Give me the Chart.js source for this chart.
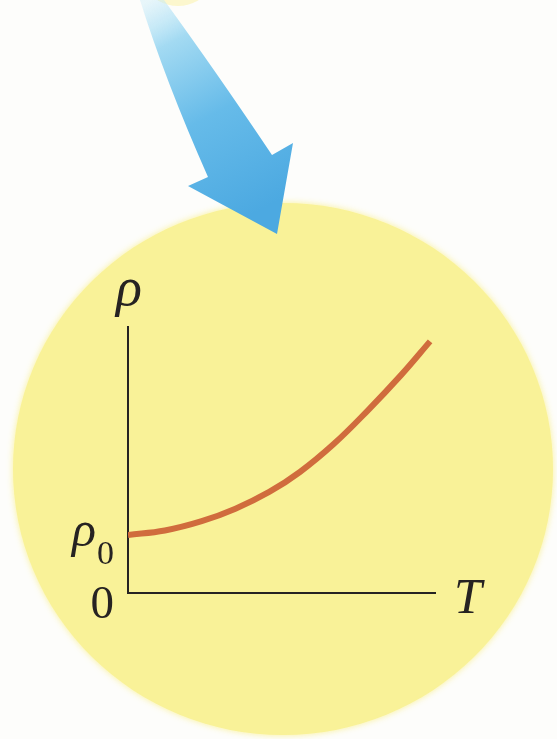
<!DOCTYPE html>
<html>
<head>
<meta charset="utf-8">
<title>Resistivity vs temperature</title>
<script src="https://cdn.jsdelivr.net/npm/chart.js@4/dist/chart.umd.min.js"></script>
<style>
    html, body { margin: 0; padding: 0; background: #fdfdfb; }
    .wrap { width: 557px; height: 739px; position: relative; }
</style>
</head>
<body>
<div class="wrap"><canvas id="rhoChart"></canvas></div>
<script>
// values (T and rho in arbitrary units, axes 0..10)
const temperature = [0, 1.2, 2.4, 3.5, 4.6, 5.6, 6.7, 7.8, 8.9, 9.84];
const resistivity = [2.18, 2.35, 2.70, 3.17, 3.80, 4.55, 5.60, 6.85, 8.20, 9.46];
const yTickValues = [0, 2.18];
const yTickLabels = ['0', 'ρ'];   // second one gets a subscript 0
const yTickSub = ['', '0'];
const xTitle = 'T';
const yTitle = 'ρ';

const SERIF = '"Liberation Serif", "DejaVu Serif", serif';
const INK = '#262322';

// yellow disc + blue arrow behind the plot, math labels on top
const backdrop = {
    id: 'backdrop',
    beforeDraw(chart) {
        const ctx = chart.ctx;
        ctx.save();

        // faint edge of the previous disc at the top
        ctx.fillStyle = 'rgba(250, 240, 150, 0.45)';
        ctx.beginPath();
        ctx.ellipse(178, -60, 50, 66, 0, 0, Math.PI * 2);
        ctx.fill();

        // main disc
        ctx.shadowColor = 'rgba(250, 240, 140, 0.9)';
        ctx.shadowBlur = 6;
        ctx.fillStyle = '#f9f298';
        ctx.beginPath();
        ctx.ellipse(283, 469, 270, 266, 0, 0, Math.PI * 2);
        ctx.fill();
        ctx.shadowBlur = 0;

        // arrow
        const grad = ctx.createLinearGradient(150, 0, 260, 210);
        grad.addColorStop(0, 'rgba(190, 232, 248, 0.35)');
        grad.addColorStop(0.2, '#a3daf2');
        grad.addColorStop(0.55, '#66bbe9');
        grad.addColorStop(1, '#4ca9e1');
        ctx.fillStyle = grad;
        ctx.beginPath();
        ctx.moveTo(140, 0);
        ctx.quadraticCurveTo(165, 80, 208, 177);
        ctx.lineTo(188, 186);
        ctx.lineTo(277, 234);
        ctx.lineTo(293, 143);
        ctx.lineTo(272, 155);
        ctx.quadraticCurveTo(215, 70, 164, 0);
        ctx.closePath();
        ctx.fill();

        ctx.restore();
    },
    afterDraw(chart) {
        const ctx = chart.ctx;
        const area = chart.chartArea;
        const y = chart.scales.y;
        ctx.save();
        ctx.fillStyle = INK;
        ctx.textBaseline = 'alphabetic';

        // axis titles
        ctx.textAlign = 'center';
        ctx.font = 'italic 54px ' + SERIF;
        ctx.fillText(yTitle, area.left + 1, area.top - 22);
        ctx.font = 'italic 50px ' + SERIF;
        ctx.fillText(xTitle, area.right + 33, area.bottom + 20);

        // y tick labels at the scale's own pixel positions
        yTickValues.forEach((v, i) => {
            const py = y.getPixelForValue(v);
            const right = area.left - 14;
            if (yTickSub[i]) {
                ctx.font = '34px ' + SERIF;
                ctx.textAlign = 'right';
                ctx.fillText(yTickSub[i], right, py + 29);
                const subW = ctx.measureText(yTickSub[i]).width;
                ctx.font = 'italic 50px ' + SERIF;
                ctx.fillText(yTickLabels[i], right - subW - 1, py + 11);
            } else {
                ctx.font = '47px ' + SERIF;
                ctx.textAlign = 'right';
                ctx.fillText(yTickLabels[i], right, py + 25);
            }
        });
        ctx.restore();
    }
};

new Chart(document.getElementById('rhoChart'), {
    type: 'line',
    data: {
        datasets: [{
            label: 'ρ(T)',
            data: temperature.map((t, i) => ({ x: t, y: resistivity[i] })),
            borderColor: '#d06c3d',
            borderWidth: 6,
            pointRadius: 0,
            tension: 0.4,
            fill: false
        }]
    },
    options: {
        responsive: true,
        maintainAspectRatio: false,
        devicePixelRatio: 1,
        animation: false,
        layout: { padding: { top: 327, right: 122, bottom: 0, left: 0 } },
        plugins: {
            legend: { display: false },
            tooltip: { enabled: false }
        },
        scales: {
            x: {
                type: 'linear',
                min: 0,
                max: 10,
                grid: { display: false, drawTicks: false },
                border: { display: true, color: INK, width: 2 },
                ticks: { display: false },
                afterFit(scale) { scale.height = 146; }
            },
            y: {
                type: 'linear',
                min: 0,
                max: 10,
                grid: { display: false, drawTicks: false },
                border: { display: true, color: INK, width: 2 },
                afterBuildTicks(scale) {
                    scale.ticks = yTickValues.map(v => ({ value: v }));
                },
                afterFit(scale) { scale.width = 128; },
                ticks: { display: false }
            }
        }
    },
    plugins: [backdrop]
});
</script>
</body>
</html>
